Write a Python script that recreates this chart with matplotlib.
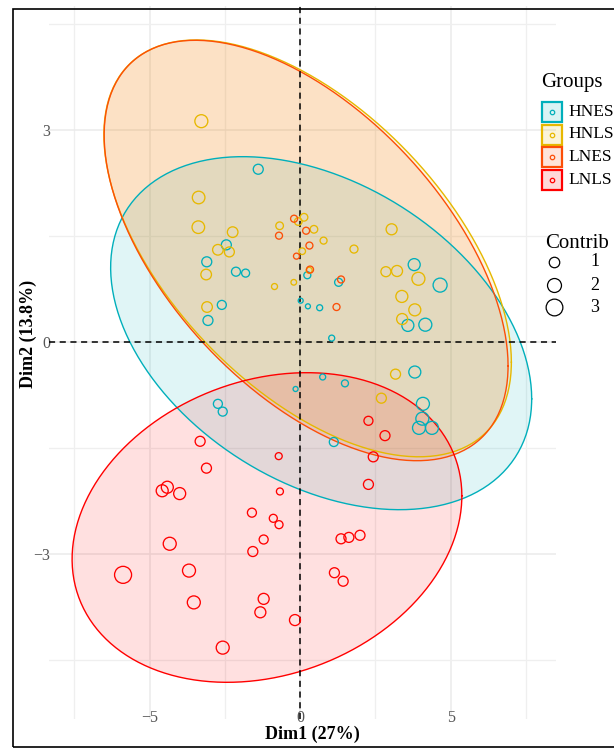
import numpy as np
import matplotlib
matplotlib.use("Agg")
import matplotlib.pyplot as plt
from matplotlib.patches import Rectangle

# ---------------------------------------------------------------------------
# data (Dim1, Dim2, contribution)
groups = ["HNES", "HNLS", "LNES", "LNLS"]
colors = ["#00AFBB", "#E7B800", "#FC4E07", "#FF0000"]

hnes_x = [-1.39, -2.45, -3.10, -2.13, -1.81, -2.60, -3.06, 0.24, 1.28, 0.02,
          0.26, 0.65, 1.05, 3.79, 4.65, 3.58, 4.16, 3.81, 0.75, 1.49,
          4.08, 4.06, 3.95, 4.38, 1.12, -2.73, -2.57, -0.15]
hnes_y = [2.45, 1.38, 1.14, 1.00, 0.98, 0.53, 0.31, 0.95, 0.85, 0.59,
          0.51, 0.49, 0.06, 1.10, 0.81, 0.24, 0.25, -0.42, -0.49, -0.58,
          -0.87, -1.08, -1.21, -1.21, -1.41, -0.87, -0.98, -0.66]
hnes_c = [0.88, 0.88, 0.88, 0.66, 0.46, 0.66, 0.88, 0.28, 0.46, 0.0,
          0.0, 0.13, 0.13, 1.40, 2.01, 1.40, 1.69, 1.40, 0.13, 0.28,
          1.69, 1.69, 1.69, 1.69, 0.66, 0.66, 0.66, 0.0]

hnls_x = [-3.28, -3.37, -3.38, -2.24, -2.73, -2.35, -3.12, -3.09, -0.85, -0.21,
          -0.68, -0.06, 0.13, 0.46, 0.78, 0.07, 1.79, 0.30, 3.04, 2.85,
          3.22, 3.93, 3.38, 3.81, 3.39, 3.17, 2.70]
hnls_y = [3.13, 2.05, 1.63, 1.56, 1.31, 1.28, 0.96, 0.50, 0.79, 0.85,
          1.65, 1.71, 1.77, 1.60, 1.44, 1.29, 1.32, 1.02, 1.60, 1.00,
          1.01, 0.90, 0.65, 0.46, 0.33, -0.45, -0.79]
hnls_c = [1.69, 1.57, 1.57, 1.03, 1.03, 0.88, 1.03, 1.03, 0.13, 0.08,
          0.39, 0.39, 0.39, 0.39, 0.28, 0.22, 0.46, 0.13, 1.13, 0.88,
          1.13, 1.69, 1.40, 1.40, 1.13, 0.88, 0.88]

lnes_x = [-0.70, -0.20, 0.20, 0.31, -0.12, 0.33, 1.36, 1.21]
lnes_y = [1.51, 1.75, 1.58, 1.37, 1.22, 1.03, 0.89, 0.50]
lnes_c = [0.28, 0.28, 0.28, 0.28, 0.13, 0.28, 0.28, 0.28]

lnls_x = [2.27, 2.82, 2.43, 2.27, -3.32, -0.71, -3.11, -4.58, -4.41, -4.00,
          -0.67, -1.60, -0.89, -0.70, -4.33, -1.21, -1.57, -5.88, -3.69, -3.53,
          -1.21, -1.32, -0.17, -2.57, 1.36, 1.62, 1.99, 1.14, 1.43]
lnls_y = [-1.11, -1.32, -1.62, -2.01, -1.40, -1.61, -1.78, -2.10, -2.05, -2.14,
          -2.11, -2.41, -2.49, -2.58, -2.85, -2.79, -2.96, -3.29, -3.23, -3.68,
          -3.63, -3.82, -3.93, -4.32, -2.78, -2.76, -2.73, -3.26, -3.38]
lnls_c = [0.66, 0.88, 0.88, 0.88, 0.88, 0.28, 0.88, 1.40, 1.40, 1.40,
          0.28, 0.66, 0.46, 0.46, 1.69, 0.66, 0.88, 3.11, 1.69, 1.69,
          1.13, 1.13, 1.13, 1.69, 0.88, 0.88, 0.88, 0.88, 0.88]

# ellipse centre and shape matrix (sxx, syy, sxy) per group
ell_cx = [0.70, 0.25, 0.20, -1.10]
ell_cy = [0.13, 1.33, 1.30, -2.62]
ell_sxx = [48.9, 45.8, 45.0, 41.9]
ell_syy = [6.24, 8.70, 8.85, 4.80]
ell_sxy = [-6.5, -10.9, -10.95, 2.9]

xs = [hnes_x, hnls_x, lnes_x, lnls_x]
ys = [hnes_y, hnls_y, lnes_y, lnls_y]
cs = [hnes_c, hnls_c, lnes_c, lnls_c]

W, H = 614, 749


def fx(px):
    return px / W


def fy(py):
    return 1 - py / H


def msize(c):
    # contribution -> marker area (pt^2)
    d = np.sqrt(25 + 85 * np.asarray(c, dtype=float))
    return (d * 0.72) ** 2


plt.rcParams['font.family'] = ['Liberation Serif', 'DejaVu Serif']

fig = plt.figure(figsize=(W / 100, H / 100), dpi=100)
ax = fig.add_axes([fx(49), fy(719), (556 - 49) / W, (719 - 6) / H])

ax.set_xlim(-8.34, 8.5)
ax.set_ylim(-5.33, 4.76)

# grid
ax.set_xticks([-5, 0, 5])
ax.set_yticks([-3, 0, 3])
ax.set_xticks([-7.5, -2.5, 2.5, 7.5], minor=True)
ax.set_yticks([-4.5, -1.5, 1.5, 4.5], minor=True)
ax.grid(True, which='major', color='#EBEBEB', lw=1.1)
ax.grid(True, which='minor', color='#EFEFEF', lw=0.9)
ax.set_axisbelow(True)
for s in ax.spines.values():
    s.set_visible(False)
ax.tick_params(which='both', length=0)
ax.tick_params(axis='x', pad=-6.5, labelsize=11.5, labelcolor='#555555')
ax.tick_params(axis='y', pad=-1, labelsize=11.5, labelcolor='#555555')

# ellipses
t = np.linspace(0, 2 * np.pi, 300)
for i in range(4):
    M = np.array([[ell_sxx[i], ell_sxy[i]], [ell_sxy[i], ell_syy[i]]])
    L = np.linalg.cholesky(M)
    pts = L @ np.vstack([np.cos(t), np.sin(t)])
    ex = ell_cx[i] + pts[0]
    ey = ell_cy[i] + pts[1]
    ax.fill(ex, ey, color=colors[i], alpha=0.12, lw=0, zorder=1)
    ax.plot(ex, ey, color=colors[i], lw=1.0, zorder=2)

ax.axhline(0, color='black', ls=(0, (4, 3)), lw=1.1, zorder=3)
ax.axvline(0, color='black', ls=(0, (4, 3)), lw=1.1, zorder=3)

# points
for i in range(4):
    ax.scatter(xs[i], ys[i], s=msize(cs[i]), facecolors='none',
               edgecolors=colors[i], linewidths=0.95, zorder=4)

# axis titles
fig.text(fx(312), fy(734), "Dim1 (27%)", ha='center', va='center',
         fontsize=13, fontweight='bold')
fig.text(fx(28), fy(334), "Dim2 (13.8%)", ha='center', va='center',
         rotation=90, fontsize=13, fontweight='bold')

# legend: Groups
fig.text(fx(541.5), fy(87), "Groups", ha='left', va='baseline', fontsize=15)
key_tops = [102, 124.5, 147, 170]
for i in range(4):
    top = key_tops[i]
    fig.patches.append(Rectangle((fx(542), fy(top + 20)), 20 / W, 20 / H,
                                 transform=fig.transFigure, facecolor=colors[i],
                                 alpha=0.15, edgecolor='none'))
    fig.patches.append(Rectangle((fx(542), fy(top + 20)), 20 / W, 20 / H,
                                 transform=fig.transFigure, facecolor='none',
                                 edgecolor=colors[i], lw=1.6))
    fig.add_artist(plt.Line2D([fx(552)], [fy(top + 10)], marker='o', ms=3.2,
                              mfc='none', mec=colors[i], mew=0.9,
                              transform=fig.transFigure))
    fig.text(fx(568), fy(top + 10), groups[i], ha='left', va='center',
             fontsize=12.5)

# legend: Contrib
fig.text(fx(545), fy(248), "Contrib", ha='left', va='baseline', fontsize=15)
contrib_vals = [1, 2, 3]
contrib_rows = [262, 285, 307]
for v, py in zip(contrib_vals, contrib_rows):
    fig.add_artist(plt.Line2D([fx(554)], [fy(py)], marker='o',
                              ms=np.sqrt(msize(v)), mfc='none', mec='black',
                              mew=0.9, transform=fig.transFigure))
    fig.text(fx(595), fy(py), str(v), ha='center', va='center', fontsize=13)

# outer frame (cropped on the right)
fig.patches.append(Rectangle((fx(13), fy(747)), 1.2, (747 - 9) / H,
                             transform=fig.transFigure, facecolor='none',
                             edgecolor='black', lw=1.2))

fig.savefig("out.png", dpi=100)
